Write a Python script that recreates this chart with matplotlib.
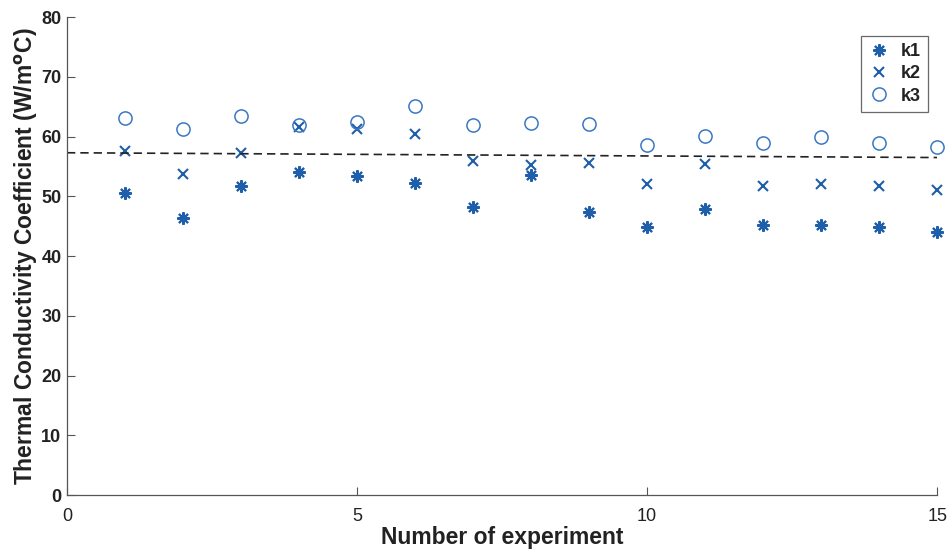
import numpy as np
import matplotlib.pyplot as plt

plt.rcParams['font.family'] = ['Liberation Sans', 'DejaVu Sans']

# Thermal conductivity per experiment (W/m°C)
experiment = [1, 2, 3, 4, 5, 6, 7, 8, 9, 10, 11, 12, 13, 14, 15]
k1 = [50.5, 46.4, 51.7, 54.1, 53.4, 52.2, 48.2, 53.6, 47.4, 44.9, 47.9, 45.2, 45.2, 44.9, 44.0]
k2 = [57.6, 53.7, 57.2, 61.6, 61.3, 60.4, 55.9, 55.2, 55.6, 52.1, 55.4, 51.7, 52.1, 51.7, 51.0]
k3 = [63.1, 61.3, 63.4, 61.9, 62.4, 65.1, 61.9, 62.3, 62.1, 58.6, 60.1, 58.9, 59.9, 58.9, 58.2]

# overall mean reference line
trend_x = [0, 15]
trend_y = [57.3, 56.5]

blue = '#1f5ea8'
asterisk = (8, 2, 0)

fig = plt.figure(figsize=(9.5, 5.52), dpi=100)
ax = fig.add_axes([0.0705, 0.103, 0.916, 0.866])

ax.plot(experiment, k1, linestyle='none', marker=asterisk, markersize=9,
        markeredgewidth=1.5, color=blue, label='k1', clip_on=False)
ax.plot(experiment, k2, linestyle='none', marker='x', markersize=6.5,
        markeredgewidth=1.5, color=blue, label='k2', clip_on=False)
ax.plot(experiment, k3, linestyle='none', marker='o', markersize=9.5,
        markerfacecolor='none', markeredgewidth=1.1, color='#3a78c2', label='k3',
        clip_on=False)
ax.plot(trend_x, trend_y, linestyle='--', color='#222222', linewidth=1.2,
        dashes=(5, 3))

ax.set_xlim(0, 15)
ax.set_ylim(0, 80)
ax.set_xticks([0, 5, 10, 15])
ax.set_yticks(range(0, 81, 10))

for side in ['top', 'right']:
    ax.spines[side].set_visible(False)
for side in ['left', 'bottom']:
    ax.spines[side].set_color('#555555')
    ax.spines[side].set_linewidth(0.9)

ax.tick_params(direction='in', length=6, width=0.8, color='#555555',
               labelsize=13, labelcolor='#222222')
ax.tick_params(axis='x', pad=9)
ax.tick_params(axis='y', pad=4)
for lbl in ax.get_yticklabels():
    lbl.set_fontweight('bold')

ax.set_xlabel('Number of experiment', fontsize=16.5, fontweight='bold',
              color='#222222', labelpad=1)
ax.set_ylabel('Thermal Conductivity Coefficient (W/m$^\\mathbf{o}$C)', fontsize=16.5,
              fontweight='bold', color='#222222', labelpad=1)

leg = ax.legend(loc='upper right', bbox_to_anchor=(1.0, 0.98), frameon=True,
                fancybox=False, fontsize=13, handlelength=1.2, handletextpad=0.6,
                borderpad=0.4, labelspacing=0.3)
leg.get_frame().set_edgecolor('#444444')
leg.get_frame().set_linewidth(0.9)
for t in leg.get_texts():
    t.set_fontweight('bold')
    t.set_color('#222222')

fig.savefig('out.png', dpi=100)
